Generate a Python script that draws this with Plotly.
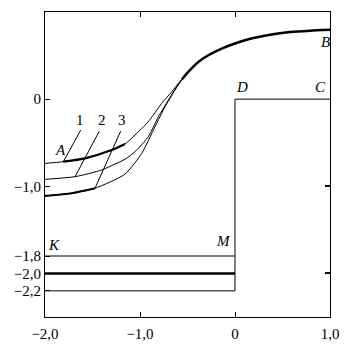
import plotly.graph_objects as go

# ---- data ----
curve1_x = [-2.0, -1.807, -1.579, -1.298, -1.158, -1.053, -0.913, -0.772, -0.666, -0.597, -0.56]
curve1_y = [-0.737, -0.718, -0.679, -0.584, -0.515, -0.412, -0.26, -0.049, 0.084, 0.18, 0.225]
curve1_thick_x = [-1.807, -1.579, -1.298, -1.158]
curve1_thick_y = [-0.718, -0.679, -0.584, -0.515]

curve2_x = [-2.0, -1.684, -1.403, -1.263, -1.158, -1.053, -0.913, -0.807, -0.702, -0.614, -0.56]
curve2_y = [-0.92, -0.89, -0.813, -0.745, -0.69, -0.604, -0.432, -0.203, -0.011, 0.141, 0.225]

curve3_x = [-2.0, -1.719, -1.474, -1.158, -0.982, -0.842, -0.737, -0.632, -0.56]
curve3_y = [-1.111, -1.08, -1.023, -0.86, -0.622, -0.317, -0.088, 0.103, 0.225]
curve3_thick_x = [-2.0, -1.719, -1.474]
curve3_thick_y = [-1.111, -1.08, -1.023]

curveB_x = [-0.56, -0.492, -0.386, -0.281, -0.14, 0.0, 0.193, 0.368, 0.579, 0.789, 1.0]
curveB_y = [0.225, 0.313, 0.427, 0.504, 0.58, 0.638, 0.702, 0.74, 0.77, 0.786, 0.797]

level_upper = -1.8
level_mid = -2.0
level_lower = -2.2
step_x = [-2.0, 0.0, 0.0, 1.0]
step_y = [level_lower, level_lower, 0.0, 0.0]

leader1 = ([-1.624, -1.807], [-0.355, -0.718])
leader2 = ([-1.428, -1.684], [-0.367, -0.89])
leader3 = ([-1.203, -1.474], [-0.367, -1.023])

xtick_vals = [-2.0, -1.0, 0.0, 1.0]
xtick_text = ["\u22122,0", "\u22121,0", "0", "1,0"]
ytick_vals = [0.0, -1.0, -1.8, -2.0, -2.2]
ytick_text = ["0", "\u22121,0", "\u22121,8", "\u22122,0", "\u22122,2"]
yright_vals = [-1.0, -2.0]

FONT = "Liberation Serif"

fig = go.Figure()

def line(x, y, w):
    fig.add_trace(go.Scatter(x=x, y=y, mode="lines",
                             line=dict(color="black", width=w, shape="spline", smoothing=0.6),
                             showlegend=False, hoverinfo="skip"))

def straight(x, y, w):
    fig.add_trace(go.Scatter(x=x, y=y, mode="lines", line=dict(color="black", width=w),
                             showlegend=False, hoverinfo="skip"))

line(curve1_x, curve1_y, 1)
line(curve1_thick_x, curve1_thick_y, 2.2)
line(curve2_x, curve2_y, 1)
line(curve3_x, curve3_y, 1)
line(curve3_thick_x, curve3_thick_y, 2.2)
line(curveB_x, curveB_y, 2.5)

straight([-2.0, 0.0], [level_upper, level_upper], 1)
straight([-2.0, 0.0], [level_mid, level_mid], 2.5)
straight(step_x, step_y, 1)

for lx, ly in (leader1, leader2, leader3):
    straight(lx, ly, 1)

fig.add_trace(go.Scatter(x=[-2.0], y=[-2.5], yaxis="y2", mode="markers", marker=dict(opacity=0),
                         showlegend=False, hoverinfo="skip"))

def ann(x, y, t, italic=False, size=15):
    fig.add_annotation(x=x, y=y, text=(f"<i>{t}</i>" if italic else t), showarrow=False,
                       font=dict(family=FONT, size=size, color="black"), xanchor="center", yanchor="middle")

ann(-1.632, -0.24, "1")
ann(-1.403, -0.24, "2")
ann(-1.193, -0.24, "3")
ann(-1.84, -0.584, "A", True)
ann(0.955, 0.656, "B", True)
ann(0.07, 0.134, "D", True)
ann(0.895, 0.134, "C", True)
ann(-1.91, -1.672, "K", True)
ann(-0.119, -1.627, "M", True)
ann(0.705, -2.69, "x", True)
ann(-2.15, 0.962, "y", True)

axis_common = dict(showline=True, linecolor="black", linewidth=1, showgrid=False, zeroline=False,
                   ticks="inside", ticklen=5, tickcolor="black", tickwidth=1,
                   tickfont=dict(family=FONT, size=15, color="black"))

fig.update_layout(
    width=356, height=344,
    margin=dict(l=37, r=34, t=4, b=35),
    font=dict(family=FONT, size=15, color="black"),
    paper_bgcolor="white", plot_bgcolor="white",
    xaxis=dict(range=[-2.0, 1.0], tickvals=xtick_vals, ticktext=xtick_text, mirror="ticks",
               ticklabelstandoff=3, **axis_common),
    yaxis=dict(range=[-2.5, 1.0], tickvals=ytick_vals, ticktext=ytick_text, mirror=True, **axis_common),
    yaxis2=dict(range=[-2.5, 1.0], overlaying="y", side="right", tickvals=yright_vals, showticklabels=False,
                showline=False, showgrid=False, zeroline=False, ticks="inside", ticklen=5, tickwidth=2,
                tickcolor="black"),
)

fig.write_html("out.html")
